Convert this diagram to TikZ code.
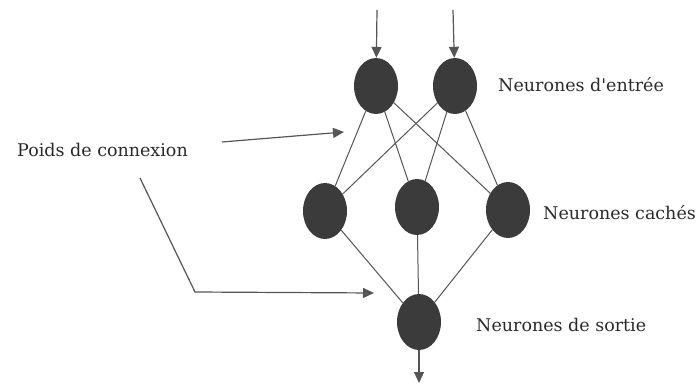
\documentclass[tikz,border=0pt]{standalone}
\usepackage{fontspec}
\setmainfont{DejaVu Serif}[Ligatures=TeXOff]
\usetikzlibrary{shapes.geometric,arrows.meta}
\definecolor{neuron}{HTML}{3B3B3B}
\definecolor{wire}{HTML}{555555}
\definecolor{ink}{HTML}{2A2A2A}
\begin{document}
\begin{tikzpicture}[x=1pt,y=-1pt,
  neuronbox/.style={ellipse,fill=neuron,draw=none,minimum width=44pt,minimum height=56pt,inner sep=0pt},
  link/.style={draw=wire,line width=1pt},
  flow/.style={draw=wire,line width=1.2pt,-{Triangle[length=11pt,width=10pt]}},
  lbl/.style={anchor=base west,inner sep=0pt,text=ink,font=\fontsize{17.5}{20}\selectfont}]
\useasboundingbox (0,0) rectangle (696,385);
% layers
\node[neuronbox] (i1) at (376,86) {};
\node[neuronbox] (i2) at (455,86) {};
\node[neuronbox] (h1) at (325,211) {};
\node[neuronbox] (h2) at (417,207) {};
\node[neuronbox] (h3) at (508,210) {};
\node[neuronbox] (o) at (419,322) {};
% inputs and output
\coordinate (in1) at (377,10);
\coordinate (in2) at (453,10);
\coordinate (out) at (419,383);
\draw[flow] (in1) -- (i1);
\draw[flow] (in2) -- (i2);
\draw[flow] (o) -- (out);
% weights
\foreach \a in {i1,i2}
  \foreach \b in {h1,h2,h3}
    \draw[link] (\a) -- (\b);
\foreach \b in {h1,h2,h3}
  \draw[link] (\b) -- (o);
% labels
\node[lbl] (lin) at (498,92) {Neurones d'entrée};
\node[lbl] (lhid) at (543,219) {Neurones cachés};
\node[lbl] (lout) at (476,331) {Neurones de sortie};
\node[lbl] (lw) at (17,157) {Poids de connexion};
\coordinate (w1s) at (222,142);
\coordinate (w1e) at (344,132);
\coordinate (w2s) at (140,178);
\coordinate (w2m) at (195,292);
\coordinate (w2e) at (374,293);
\draw[flow] (w1s) -- (w1e);
\draw[flow] (w2s) -- (w2m) -- (w2e);
\end{tikzpicture}
\end{document}
